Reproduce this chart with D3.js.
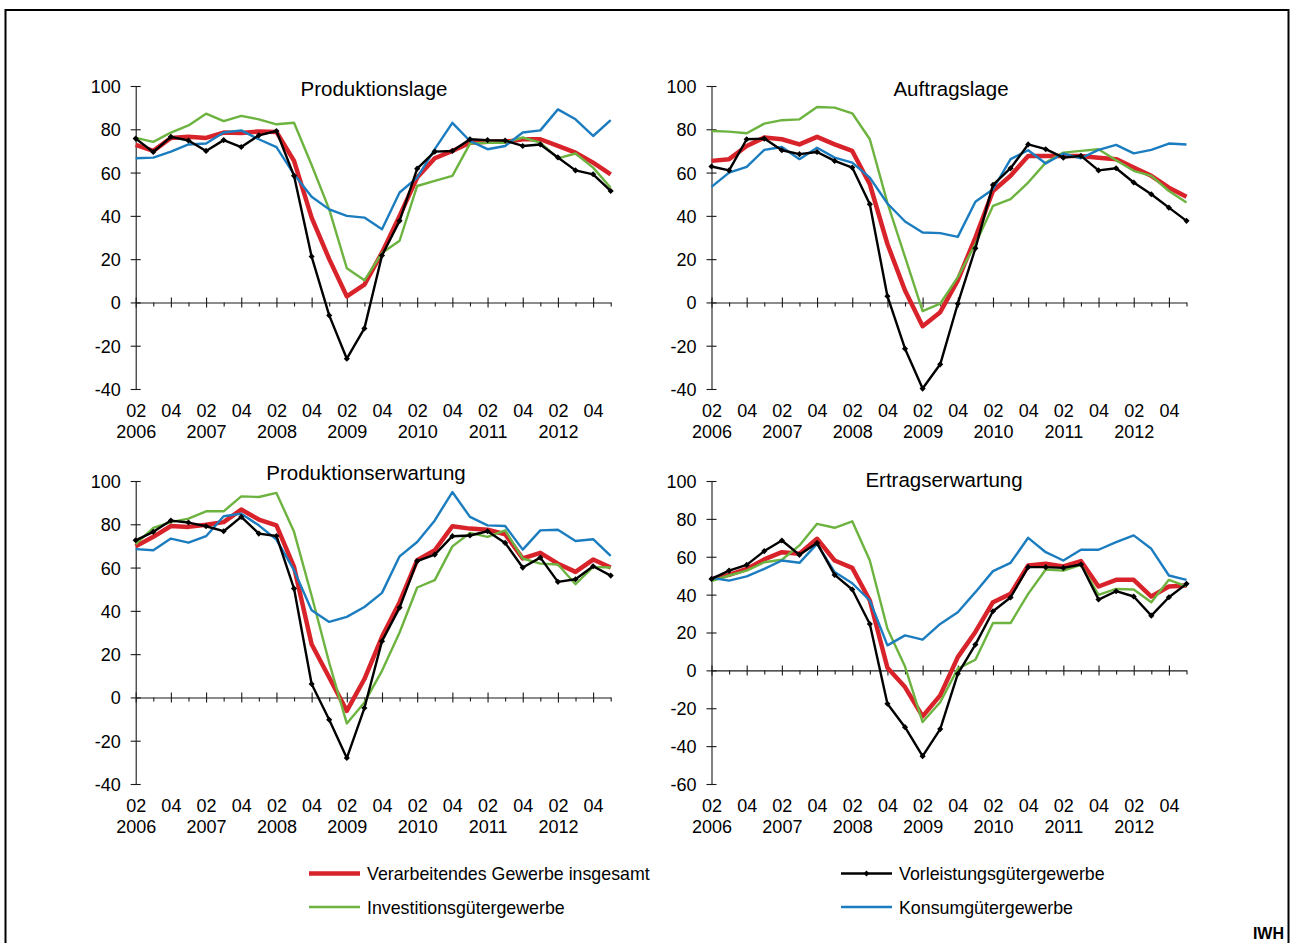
<!DOCTYPE html>
<html><head><meta charset="utf-8">
<script src="https://cdn.jsdelivr.net/npm/d3@7"></script>
<style>
html,body{margin:0;padding:0;background:#fff;}
svg{display:block;font-family:"Liberation Sans",Arial,sans-serif;}
</style></head>
<body>
<svg id="chart" width="1291" height="943"></svg>
<script>
// ---------- data ----------
const categories = [];
["2006","2007","2008","2009","2010","2011","2012"].forEach(y => ["Q1","Q2","Q3","Q4"].forEach(q => categories.push(y + " " + q)));
const quarterTickLabels = ["02","04"];
const yearLabels = ["2006","2007","2008","2009","2010","2011","2012"];
const seriesNames = ["Verarbeitendes Gewerbe insgesamt","Vorleistungsgütergewerbe","Investitionsgütergewerbe","Konsumgütergewerbe"];
const panelTitles = ["Produktionslage","Auftragslage","Produktionserwartung","Ertragserwartung"];

// Produktionslage
const pl_total = [72.8,70,76,76.6,76,78.5,78.3,79,78.8,65.4,39.2,20,2.8,8.2,23,40,57.7,66.6,70,73.8,74.2,74.2,75.4,75.4,72.3,69.2,64.6,59.2];
const pl_vor   = [75.7,69.5,76.5,74.8,70,75,71.8,77.2,79.2,58.5,21.2,-6,-26,-12,21.7,37.7,61.8,69.7,70,75.4,75,74.8,72.3,73,67,61,59.2,51.5];
const pl_inv   = [76,74.2,78.5,81.8,87.2,83.8,86.2,84.6,82.3,83,63.5,43,15.8,10.2,22.8,28.5,53.8,56.2,58.5,73.4,73.8,73.8,76.2,73.8,66.6,68.8,62.3,53];
const pl_kon   = [66.6,66.9,69.7,73,73.4,78.5,79.5,75.4,71.8,59.2,48.8,43,40,39.2,33.8,50.8,57.7,70.8,83,74.6,70.8,72.3,78.5,79.5,89.2,84.6,76.9,84.2];
// Auftragslage
const al_total = [65.4,66.2,72.3,76.2,75.4,73,76.5,73,70,54.6,27,5.5,-11,-4.5,10.2,30,51.5,58.5,67.7,67.7,67.7,67.7,66.9,66.2,62.3,58.5,53,48.8];
const al_vor   = [62.8,61,75.4,75.7,70.3,68.5,69.5,65.4,62.3,45.4,2.9,-21.4,-39.8,-28.6,-0.6,25,54.3,62,73,70.8,66.9,67.7,61,62,55.4,50,43.8,37.7];
const al_inv   = [79.2,78.9,78.2,82.6,84.2,84.6,90.3,90,87.4,75.4,46,21,-4,-0.6,11.7,27,44.6,47.7,55.4,64.6,69.2,70,70.8,65.7,60.8,58.5,51.5,46.2];
const al_kon   = [53.4,60,62.6,70.5,71.8,66.2,71.5,66.9,64.6,57.7,45.7,37.4,32.3,32,30.3,46.5,52.3,66.2,70.3,64.2,68.8,66.6,70.5,72.8,68.9,70.5,73.4,73];
// Produktionserwartung
const pe_total = [69.8,74.2,79.2,78.8,79.8,81,86.8,82.2,79.5,60.3,24.6,9.2,-6.2,8.5,28,44,63.4,68,79.1,78,77.5,75.4,64.2,66.8,61.8,58,63.7,60];
const pe_vor   = [72.6,76.5,81.7,80.8,79.1,76.8,83.4,75.7,74.6,50.3,6.2,-10.3,-28,-4.9,26,41.5,63,66,74.5,74.8,76.8,71.4,60,64.6,53.4,54.6,60.6,56.3];
const pe_inv   = [70.8,78.3,81,82.6,86,86,92.9,92.6,94.5,76.5,47,16,-12,-2.3,12.3,30,50.8,54.2,69.8,76,74.2,77.2,64.2,61.8,61.4,52.3,60.3,60];
const pe_kon   = [68.5,68,73.4,71.5,74.5,83.7,84.9,79.5,72.9,58.8,40.3,34.9,37.2,41.8,48.3,65.2,71.8,81.8,94.9,83.4,79.5,79.2,68.3,77.2,77.5,72.3,73.1,65.4];
// Ertragserwartung
const ee_total = [48.3,50.4,53.6,58.6,62.4,61.6,69.5,58,54.1,36.9,1.4,-8.8,-24.3,-13.2,7,20.3,36,40.4,55.4,56.3,54.9,57.7,44.3,47.8,47.8,39,44.3,44.8];
const ee_vor   = [48.3,52.7,55.7,63,68.6,61,67.2,50.4,42.7,24.5,-17.6,-30,-45.3,-31,-1.8,13.6,31.2,38.5,54.5,54.5,54.1,55.9,37.4,41.8,39,28.9,38.6,45.7];
const ee_inv   = [47.1,50.1,52.7,57.1,58.4,66,77.4,75.3,78.7,58,22,2,-27.3,-16.8,0.9,5.6,25,25,40.4,53.3,52.7,55.7,39.9,43,42.7,36,47.8,44.3];
const ee_kon   = [48.9,47.4,49.6,53.6,58,56.8,66.8,51.9,46,36.9,13.2,18.5,16.2,24.5,30.7,41.3,52.4,56.8,70,62.4,58,63.7,63.7,67.7,71.3,64.2,50.1,47.8];

const yTicksA = [-40,-20,0,20,40,60,80,100];
const yTicksB = [-60,-40,-20,0,20,40,60,80,100];

// ---------- styling / layout ----------
const colors = ["#d9232b","#000000","#6cb33f","#1b7dc0"];
const widths = [4.5,2.4,2.4,2.4];
const panels = [
  {title: panelTitles[0], data:[pl_total,pl_vor,pl_inv,pl_kon], domain:[-40,100], ticks:yTicksA, x0:135.7, x1:610.7, yTop:86, yBot:389, tx:374, ty:96},
  {title: panelTitles[1], data:[al_total,al_vor,al_inv,al_kon], domain:[-40,100], ticks:yTicksA, x0:711.5, x1:1186.5, yTop:86, yBot:389, tx:951, ty:96},
  {title: panelTitles[2], data:[pe_total,pe_vor,pe_inv,pe_kon], domain:[-40,100], ticks:yTicksA, x0:135.7, x1:610.7, yTop:481, yBot:784, tx:366, ty:480},
  {title: panelTitles[3], data:[ee_total,ee_vor,ee_inv,ee_kon], domain:[-60,100], ticks:yTicksB, x0:711.5, x1:1186.5, yTop:481, yBot:784, tx:944, ty:487}
];

const markerType = d3.symbolDiamond2 || d3.symbolDiamond;

const svg = d3.select("#chart");
svg.append("rect").attr("x",0).attr("y",0).attr("width",1291).attr("height",943).attr("fill","#fff");
// outer frame
svg.append("rect").attr("x",5.5).attr("y",10).attr("width",1283).attr("height",1000)
  .attr("fill","none").attr("stroke","#000").attr("stroke-width",2);

const axisColor = "#1a1a1a";
const tickFont = 18;

panels.forEach(p => {
  const g = svg.append("g");
  const x = d3.scalePoint().domain(categories).range([p.x0, p.x1]);
  const y = d3.scaleLinear().domain(p.domain).range([p.yBot, p.yTop]);

  // y axis
  const ya = g.append("g").attr("transform", `translate(${p.x0},0)`)
    .call(d3.axisLeft(y).tickValues(p.ticks).tickSizeInner(5).tickSizeOuter(0).tickPadding(10).tickFormat(d => String(d)));
  ya.select(".domain").attr("stroke", axisColor).attr("stroke-width",1.1);
  ya.selectAll(".tick line").attr("x1",5).attr("stroke",axisColor).attr("stroke-width",1.1);
  ya.selectAll(".tick text").attr("font-size",tickFont).attr("fill","#000").attr("font-family","Liberation Sans, Arial, sans-serif").attr("dy","0.36em");

  // x axis on zero line
  const xa = g.append("g").attr("transform", `translate(0,${y(0)})`)
    .call(d3.axisBottom(x).tickValues(categories).tickSizeInner(4).tickSizeOuter(0).tickFormat(""));
  xa.select(".domain").attr("stroke", axisColor).attr("stroke-width",1.1);
  xa.selectAll(".tick line").attr("stroke",axisColor).attr("stroke-width",1.1)
    .attr("y1",(d,i)=> i%2===0 ? -5 : 0).attr("y2",(d,i)=> i%2===0 ? 5 : 4);

  // x labels below plot
  const evenCats = categories.filter((d,i)=> i%2===0);
  const xl = g.append("g").attr("transform", `translate(0,${p.yBot})`)
    .call(d3.axisBottom(x).tickValues(evenCats).tickSize(0)
      .tickFormat(d => quarterTickLabels[categories.indexOf(d)/2 % 2]));
  xl.select(".domain").remove();
  xl.selectAll(".tick text").attr("font-size",tickFont).attr("fill","#000").attr("y",27.5).attr("dy",null)
    .attr("font-family","Liberation Sans, Arial, sans-serif");
  const yearCats = categories.filter((d,i)=> i%4===0);
  const yl = g.append("g").attr("transform", `translate(0,${p.yBot})`)
    .call(d3.axisBottom(x).tickValues(yearCats).tickSize(0)
      .tickFormat(d => yearLabels[categories.indexOf(d)/4]));
  yl.select(".domain").remove();
  yl.selectAll(".tick text").attr("font-size",tickFont).attr("fill","#000").attr("y",48.5).attr("dy",null)
    .attr("font-family","Liberation Sans, Arial, sans-serif");

  // title
  g.append("text").attr("x",p.tx).attr("y",p.ty).attr("text-anchor","middle")
    .attr("font-size",20.5).attr("fill","#000").text(p.title);

  // lines
  const line = d3.line().x((d,i)=>x(categories[i])).y(d=>y(d));
  [0,2,3,1].forEach(si => {
    g.append("path").datum(p.data[si]).attr("d",line).attr("fill","none")
      .attr("stroke",colors[si]).attr("stroke-width",widths[si]).attr("stroke-linejoin","round");
    if (si===1) {
      g.selectAll(null).data(p.data[si]).enter().append("path")
        .attr("d", d3.symbol(markerType, 24)())
        .attr("transform",(d,i)=>`translate(${x(categories[i])},${y(d)})`)
        .attr("fill","#000");
    }
  });
});

// legend
const legendItems = [
  {name: seriesNames[0], si:0, lx:309, ly:873.5},
  {name: seriesNames[1], si:1, lx:841, ly:873.5},
  {name: seriesNames[2], si:2, lx:309, ly:907},
  {name: seriesNames[3], si:3, lx:841, ly:907}
];
const lg = svg.append("g");
legendItems.forEach(it => {
  lg.append("line").attr("x1",it.lx).attr("x2",it.lx+51).attr("y1",it.ly).attr("y2",it.ly)
    .attr("stroke",colors[it.si]).attr("stroke-width",widths[it.si]);
  if (it.si===1) {
    lg.append("path").attr("d", d3.symbol(markerType, 22)())
      .attr("transform",`translate(${it.lx+25.5},${it.ly})`).attr("fill","#000");
  }
  lg.append("text").attr("x",it.lx+58).attr("y",it.ly+6.5).attr("font-size",17.8).attr("fill","#000").text(it.name);
});
svg.append("text").attr("x",1284).attr("y",938.5).attr("text-anchor","end")
  .attr("font-size",16).attr("font-weight","bold").attr("fill","#000").text("IWH");
</script>
</body></html>
